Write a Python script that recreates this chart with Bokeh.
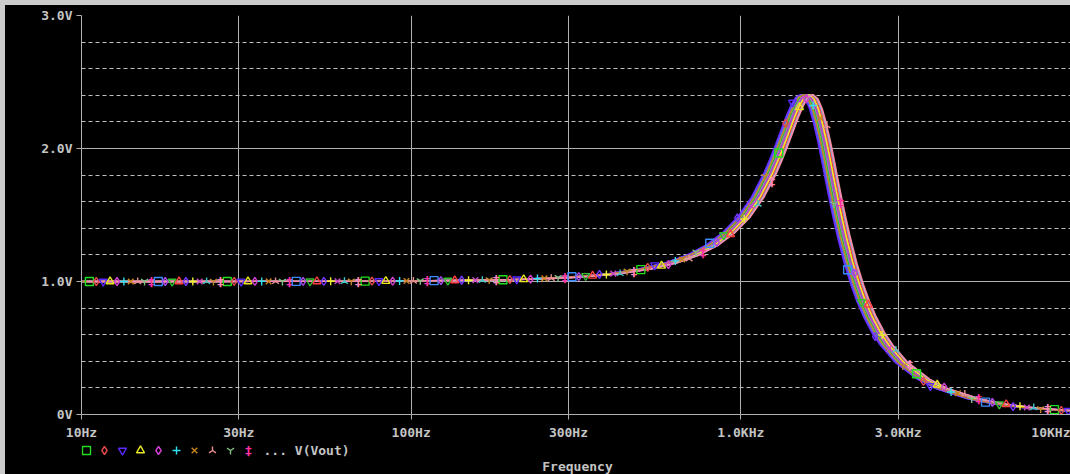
import numpy as np
from bokeh.plotting import figure
from bokeh.models import FixedTicker, Range1d
from bokeh.layouts import column
from bokeh.core.properties import value
from bokeh.embed import file_html
from bokeh.resources import INLINE

# ---- data -----------------------------------------------------------------
# nominal V(Vout) magnitude vs frequency
freq_hz = [10, 20.5, 51, 102.5, 205, 307, 410, 512, 615, 717, 820, 922, 1025,
           1127, 1230, 1281, 1332, 1384, 1435, 1486, 1537, 1589, 1640, 1691,
           1742, 1794, 1845, 1896, 1947, 1999, 2050, 2152, 2255, 2357, 2460,
           2614, 2767, 3075, 3587, 4100, 5125, 6150, 7175, 8200, 10000]
vout_v = [1.000, 1.000, 1.001, 1.004, 1.014, 1.032, 1.058, 1.094, 1.140,
          1.199, 1.274, 1.369, 1.487, 1.635, 1.817, 1.919, 2.027, 2.136,
          2.240, 2.327, 2.386, 2.405, 2.375, 2.299, 2.184, 2.045, 1.895,
          1.744, 1.601, 1.468, 1.348, 1.142, 0.978, 0.846, 0.740, 0.616,
          0.523, 0.392, 0.265, 0.192, 0.116, 0.078, 0.056, 0.043, 0.028]

# Monte Carlo runs: frequency scale of each run
run_shift = [1.000, 0.970, 0.955, 1.020, 1.035, 0.990, 1.010, 1.045, 0.980,
             1.030, 0.965, 1.005, 0.985, 1.025, 0.960, 1.015, 0.995, 1.035,
             0.975, 1.040]
run_colors = ["#20e020", "#e04848", "#5a28ff", "#e8e820", "#d040d0",
              "#30e0f0", "#c88418", "#e89090", "#80c080", "#ff30a0",
              "#3c8cff", "#a848e8", "#30c030", "#ff4040", "#7038ff",
              "#f0f030", "#c848c8", "#40c8c8", "#c08828", "#ff88b8"]
run_markers = ["square", "diamond", "inverted_triangle", "triangle", "diamond",
               "cross", "x", "y_inv", "y", "ddagger"] * 2
n_legend = 10
legend_text = "... V(Vout)"
axis_title = "Frequency"

x_ticks = [10, 30, 100, 300, 1000, 3000, 10000]
x_tick_labels = ["10Hz", "30Hz", "100Hz", "300Hz", "1.0KHz", "3.0KHz", "10KHz"]
y_ticks = [0, 1, 2, 3]
y_tick_labels = ["0V", "1.0V", "2.0V", "3.0V"]
y_minor = [k / 5 for k in range(1, 15) if k % 5]

# ---- main figure -----------------------------------------------------------
FONT = "DejaVu Sans Mono"
TXT = "#c4c4c4"
GRID = "#b0b0b0"

p = figure(width=1065, height=438, x_axis_type="log", x_range=(10, 10000),
           y_range=(0, 3), output_backend="svg", toolbar_location=None,
           background_fill_color="black", border_fill_color="black",
           min_border_left=76, min_border_top=10, min_border_bottom=29,
           min_border_right=0, outline_line_color=None)

xt = FixedTicker(ticks=x_ticks)
yt = FixedTicker(ticks=y_ticks, minor_ticks=y_minor)
p.xaxis.ticker = xt
p.yaxis.ticker = yt
p.xgrid.ticker = xt
p.ygrid.ticker = yt
p.xaxis.major_label_overrides = {float(k): v for k, v in zip(x_ticks, x_tick_labels)}
p.yaxis.major_label_overrides = {float(k): v for k, v in zip(y_ticks, y_tick_labels)}

for g in (p.xgrid, p.ygrid):
    g.grid_line_color = GRID
    g.grid_line_width = 1
p.ygrid.minor_grid_line_color = "#c0c0c0"
p.ygrid.minor_grid_line_dash = "4 3"

for ax in (p.xaxis, p.yaxis):
    ax.axis_line_color = GRID
    ax.major_tick_line_color = GRID
    ax.major_tick_out = 5
    ax.major_tick_in = 0
    ax.minor_tick_line_color = None
    ax.major_label_text_color = TXT
    ax.major_label_text_font = FONT
    ax.major_label_text_font_style = "bold"
    ax.major_label_text_font_size = "13px"
p.xaxis.major_label_standoff = 5
p.yaxis.major_label_standoff = 4

# ---- traces ----------------------------------------------------------------
lf_base = np.log10(np.array(freq_hz, dtype=float))
v_base = np.array(vout_v, dtype=float)
n_runs = len(run_shift)
step = 6.9 / 330.0          # marker spacing (decades)
start = 1.024


def draw_marker(fig, xs, ys, mk, c, size=8):
    if mk == "ddagger":
        fig.text(xs, ys, text=value("‡"), text_color=c, text_font=value(FONT),
                 text_font_size=value("13px"), text_font_style="bold",
                 text_align="center", text_baseline="middle")
    elif mk == "y_inv":
        fig.scatter(xs, ys, marker="y", angle=np.pi, size=size, line_color=c,
                    fill_color=None, line_width=1.4)
    else:
        fig.scatter(xs, ys, marker=mk, size=size, line_color=c,
                    fill_color=None, line_width=1.4)


for i in range(n_runs):
    lf = lf_base + np.log10(run_shift[i])
    p.line(10 ** lf, v_base, line_color=run_colors[i], line_width=1.3)

for i in range(n_runs):
    lf = lf_base + np.log10(run_shift[i])
    mlf = start + step * (i + n_runs * np.arange(0, 40))
    mlf = mlf[mlf <= 4.0]
    mv = np.interp(mlf, lf, v_base)
    draw_marker(p, 10 ** mlf, mv, run_markers[i], run_colors[i])

# ---- legend row + axis title strip (page-pixel coordinates) ----------------
p2 = figure(width=1065, height=31, x_range=Range1d(81, 1070),
            y_range=Range1d(474, 443),
            output_backend="svg", toolbar_location=None,
            x_axis_location=None, y_axis_location=None,
            background_fill_color="black", border_fill_color="black",
            min_border=0, min_border_left=0, min_border_right=0,
            min_border_top=0, min_border_bottom=0,
            outline_line_color=None)
p2.grid.visible = False

for i in range(n_legend):
    draw_marker(p2, [86 + 18 * i], [450], run_markers[i], run_colors[i], size=8)
p2.text([263], [450], text=value(legend_text), text_color=TXT,
        text_font=value(FONT), text_font_size=value("13px"),
        text_font_style="bold", text_align="left", text_baseline="middle")
p2.text([577], [466], text=value(axis_title), text_color=TXT,
        text_font=value(FONT), text_font_size=value("13px"),
        text_font_style="bold", text_align="center", text_baseline="middle")

layout = column(p, p2, spacing=0,
                styles={"background-color": "black",
                        "border-top": "5px solid #cccccc",
                        "border-left": "5px solid #cccccc"})
open("out.html", "w").write(file_html(layout, INLINE))
